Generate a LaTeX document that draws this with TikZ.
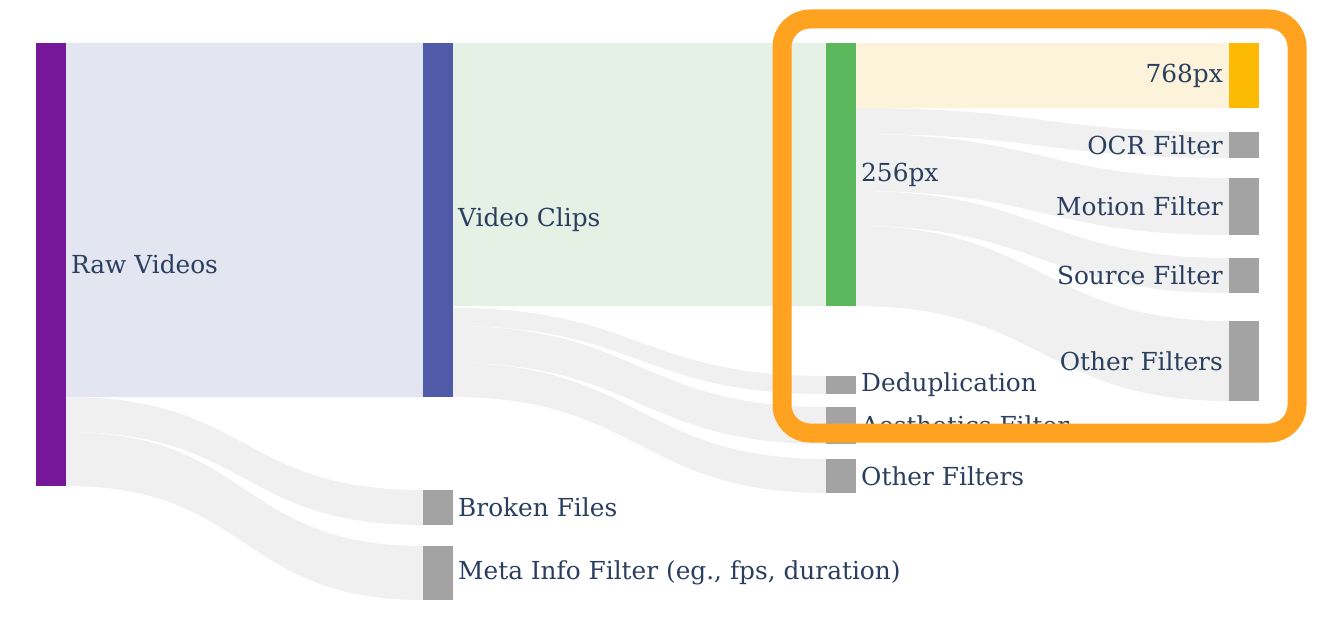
\documentclass[tikz,border=0pt]{standalone}
\usepackage{fontspec}
\setmainfont{DejaVu Serif}
\usepackage{xcolor}
\usepackage{tikz}
\usetikzlibrary{positioning,backgrounds}

\definecolor{rawc}{HTML}{76179A}
\definecolor{clipc}{HTML}{4F5AA8}
\definecolor{lowc}{HTML}{5CB85C}
\definecolor{highc}{HTML}{FCBA03}
\definecolor{dropc}{HTML}{A3A3A3}
\definecolor{txtc}{HTML}{2A3F5F}
\definecolor{framec}{HTML}{FFA220}
\definecolor{rawlink}{HTML}{E3E5F1}
\definecolor{cliplink}{HTML}{E5F1E5}
\definecolor{highlink}{HTML}{FDF3DA}
\definecolor{droplink}{HTML}{F0F0F0}

% band from #1 (offset #2) to #3 (offset #4), thickness #5, colour #6
\newcommand{\flowband}[6]{%
  \fill[#6] ([yshift=-#2pt]#1.north east)
    .. controls +(185pt,0) and +(-185pt,0) .. ([yshift=-#4pt]#3.north west)
    -- ([yshift=-#4pt-#5pt]#3.north west)
    .. controls +(-185pt,0) and +(185pt,0) .. ([yshift=-#2pt-#5pt]#1.north east)
    -- cycle;}

\begin{document}
\begin{tikzpicture}[
  x=1pt, y=-1pt,
  node distance=5pt,
  bar/.style={rectangle, inner sep=0pt, outer sep=0pt, minimum width=30pt,
              anchor=north west},
  lbl/.style={inner sep=0pt, text=txtc, font=\fontsize{24.8}{29}\selectfont},
  frame/.style={draw=framec, line width=19pt, rounded corners=28pt,
                minimum width=515pt, minimum height=414pt, inner sep=0pt}
]
\useasboundingbox (0,0) rectangle (1322,626);

% nodes
\node[bar, fill=rawc, minimum height=443pt] (raw) at (36,43) {};
\node[bar, fill=clipc, minimum height=354pt] (clips) at (423,43) {};
\node[bar, fill=dropc, minimum height=35pt] (broken) at (423,490) {};
\node[bar, fill=dropc, minimum height=54pt] (meta) at (423,546) {};
\node[bar, fill=lowc, minimum height=263pt] (low) at (826,43) {};
\node[bar, fill=dropc, minimum height=18pt] (dedup) at (826,376) {};
\node[bar, fill=dropc, minimum height=37pt] (aes) at (826,407) {};
\node[bar, fill=dropc, minimum height=34pt] (other) at (826,459) {};
\node[bar, fill=highc, minimum height=65pt] (high) at (1229,43) {};
\node[bar, fill=dropc, minimum height=26pt] (ocr) at (1229,132) {};
\node[bar, fill=dropc, minimum height=57pt] (motion) at (1229,178) {};
\node[bar, fill=dropc, minimum height=35pt] (source) at (1229,258) {};
\node[bar, fill=dropc, minimum height=80pt] (rest) at (1229,321) {};

% labels
\node[lbl, right=of raw] (rawlbl) {Raw Videos};
\node[lbl, right=of clips] (clipslbl) {Video Clips};
\node[lbl, right=of broken] (brokenlbl) {Broken Files};
\node[lbl, right=of meta] (metalbl) {Meta Info Filter (eg., fps, duration)};
\node[lbl, right=of low] (lowlbl) {256px};
\node[lbl, right=of dedup] (deduplbl) {Deduplication};
\node[lbl, right=of aes] (aeslbl) {Aesthetics Filter};
\node[lbl, right=of other] (otherlbl) {Other Filters};
\node[lbl, left=6pt of high] (highlbl) {768px};
\node[lbl, left=6pt of ocr] (ocrlbl) {OCR Filter};
\node[lbl, left=6pt of motion] (motionlbl) {Motion Filter};
\node[lbl, left=6pt of source] (sourcelbl) {Source Filter};
\node[lbl, left=6pt of rest] (restlbl) {Other Filters};

% flows
\begin{scope}[on background layer]
\flowband{raw}{0}{clips}{0}{354}{rawlink}
\flowband{raw}{354}{broken}{0}{35}{droplink}
\flowband{raw}{389}{meta}{0}{54}{droplink}
\flowband{clips}{0}{low}{0}{263}{cliplink}
\flowband{clips}{265}{dedup}{0}{18}{droplink}
\flowband{clips}{283}{aes}{0}{37}{droplink}
\flowband{clips}{320}{other}{0}{34}{droplink}
\flowband{low}{0}{high}{0}{65}{highlink}
\flowband{low}{65}{ocr}{0}{26}{droplink}
\flowband{low}{91}{motion}{0}{57}{droplink}
\flowband{low}{148}{source}{0}{35}{droplink}
\flowband{low}{183}{rest}{0}{80}{droplink}
\end{scope}

% highlight
\node[frame] (focus) at (1039.5,226) {};
\end{tikzpicture}
\end{document}
